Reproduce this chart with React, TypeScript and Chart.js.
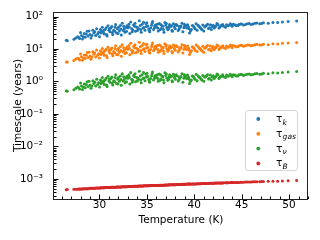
import React, { useEffect, useRef } from 'react';
import { Chart, registerables } from 'chart.js';

Chart.register(...registerables);

const temperature = [
  26.5, 26.6, 27.3, 27.5, 27.7, 27.9, 28.1, 28.2, 28.4, 28.5,
  28.7, 28.8, 29.0, 29.1, 29.3, 29.4, 29.6, 29.7, 29.9, 30.0,
  30.2, 30.3, 30.5, 30.6, 30.8, 30.9, 31.1, 31.2, 31.4, 31.5,
  31.7, 31.8, 32.0, 32.1, 32.3, 32.4, 32.6, 32.7, 32.9, 33.0,
  33.2, 33.3, 33.5, 33.6, 33.8, 33.9, 34.1, 34.2, 34.4, 34.5,
  34.7, 34.8, 35.0, 35.1, 35.3, 35.4, 35.6, 35.7, 35.9, 36.0,
  36.2, 36.3, 36.5, 36.6, 36.8, 36.9, 37.1, 37.2, 37.4, 37.5,
  37.7, 37.8, 38.0, 38.2, 38.3, 38.5, 38.7, 38.8, 39.0, 39.2,
  39.3, 39.5, 39.7, 39.8, 40.0, 40.2, 40.3, 40.5, 40.7, 40.9,
  41.0, 41.2, 41.4, 41.6, 41.8, 42.0, 42.2, 42.4, 42.6, 42.8,
  43.0, 43.3, 43.5, 43.8, 44.0, 44.3, 44.6, 44.9, 45.2, 45.6,
  46.0, 46.4, 46.9, 47.3, 47.8, 48.3, 48.8, 49.3, 49.9, 50.8,
  27.8, 28.0, 28.3, 28.6, 28.9, 29.2, 29.5, 29.8, 30.1, 30.4,
  30.7, 31.0, 31.3, 31.6, 31.9, 32.2, 32.5, 32.8, 33.1, 33.4,
  33.7, 34.0, 34.3, 34.6, 34.9, 35.2, 35.5, 35.8, 36.1, 36.4,
  36.7, 37.0, 37.3, 37.6, 37.9, 38.1, 38.4, 38.6, 38.9, 39.1,
  39.4, 39.6, 39.9, 40.1, 40.4, 40.6, 40.8, 41.1, 41.3, 41.5,
  41.7, 41.9, 42.1, 42.3, 42.5, 42.7, 42.9, 43.1, 43.4, 43.6,
  43.9, 44.1, 44.4, 44.7, 45.0, 45.4, 45.8, 46.2, 46.6, 47.1,
  30.15, 30.45, 30.75, 31.05, 31.35, 31.65, 31.95, 32.25, 32.55, 32.85,
  33.15, 33.45, 33.75, 34.05, 34.35, 34.65, 34.95, 35.25, 35.55, 35.85,
  36.15, 36.45, 36.75, 37.05, 37.35, 37.65, 37.95, 38.45, 38.95, 39.45,
];

const tauK = [
  18.5, 18, 20, 22, 24, 21, 26, 20.5, 30, 23,
  35, 25, 28, 22, 38, 31, 26, 42, 33, 24,
  36, 47, 29, 40, 25, 52, 34, 44, 28, 38,
  57, 31, 47, 36, 27, 62, 41, 33, 52, 45,
  30, 68, 39, 55, 35, 48, 42, 74, 33, 58,
  46, 38, 64, 51, 34, 44, 70, 40, 55, 48,
  36, 61, 43, 52, 33, 66, 46, 39, 57, 49,
  35, 60, 42, 53, 37, 47, 62, 34, 50, 44,
  56, 31, 40, 53, 46, 60, 38, 49, 43, 55,
  36, 51, 58, 45, 40, 54, 48, 61, 44, 52,
  57, 47, 54, 60, 50, 56, 53, 59, 55, 60,
  57, 62, 60, 64, 62, 66, 65, 68, 70, 73,
  23, 32, 24, 29, 36, 26, 34, 29, 40, 33,
  45, 38, 49, 35, 42, 53, 37, 46, 58, 42,
  50, 37, 53, 44, 60, 41, 54, 45, 58, 39,
  50, 55, 43, 52, 47, 57, 41, 51, 45, 54,
  48, 36, 51, 42, 54, 47, 40, 48, 54, 43,
  56, 49, 44, 52, 57, 48, 53, 50, 56, 52,
  55, 58, 53, 57, 59, 57, 61, 59, 63, 61,
  31, 38, 28, 43, 32, 47, 30, 41, 50, 35,
  48, 34, 62, 45, 40, 67, 49, 37, 62, 52,
  44, 57, 40, 61, 50, 38, 55, 49, 58, 42,
];

const tauGas = [
  4.0, 4.0, 4.4, 4.9, 5.2, 4.6, 5.8, 4.5, 6.5, 5.1,
  7.8, 5.5, 6.1, 4.8, 8.3, 6.9, 5.7, 9.3, 7.2, 5.3,
  8.0, 10.3, 6.4, 8.8, 5.5, 11.4, 7.5, 9.7, 6.2, 8.4,
  12.5, 6.8, 10.4, 7.9, 6.0, 13.6, 9.0, 7.3, 11.5, 9.9,
  6.6, 15.0, 8.6, 12.1, 7.7, 10.6, 9.2, 16.2, 7.3, 12.8,
  10.1, 8.4, 14.1, 11.2, 7.5, 9.7, 15.4, 8.8, 12.1, 10.6,
  7.9, 13.4, 9.5, 11.4, 7.3, 14.5, 10.1, 8.6, 12.5, 10.8,
  7.7, 13.2, 9.2, 11.7, 8.1, 10.3, 13.6, 7.5, 11.0, 9.7,
  12.3, 6.8, 8.8, 11.7, 10.1, 13.2, 8.4, 10.8, 9.5, 12.1,
  7.9, 11.2, 12.8, 9.9, 8.8, 11.9, 10.6, 13.4, 9.7, 11.4,
  12.5, 10.3, 11.9, 13.2, 11.0, 12.3, 11.7, 13.0, 12.1, 13.2,
  12.5, 13.6, 13.2, 14.1, 13.6, 14.5, 14.3, 15.0, 15.4, 16.0,
  5.1, 7.0, 5.3, 6.4, 7.9, 5.7, 7.5, 6.4, 8.8, 7.3,
  9.9, 8.4, 10.8, 7.7, 9.2, 11.7, 8.1, 10.1, 12.8, 9.2,
  11.0, 8.1, 11.7, 9.7, 13.2, 9.0, 11.9, 9.9, 12.8, 8.6,
  11.0, 12.1, 9.5, 11.4, 10.3, 12.5, 9.0, 11.2, 9.9, 11.9,
  10.6, 7.9, 11.2, 9.2, 11.9, 10.3, 8.8, 10.6, 11.9, 9.5,
  12.3, 10.8, 9.7, 11.4, 12.5, 10.6, 11.7, 11.0, 12.3, 11.4,
  12.1, 12.8, 11.7, 12.5, 13.0, 12.5, 13.4, 13.0, 13.9, 13.4,
  6.8, 8.4, 6.2, 9.5, 7.0, 10.3, 6.6, 9.0, 11.0, 7.7,
  10.6, 7.5, 13.6, 9.9, 8.8, 14.7, 10.8, 8.1, 13.6, 11.4,
  9.7, 12.5, 8.8, 13.4, 11.0, 8.4, 12.1, 10.8, 12.8, 9.2,
];

const tauNu = [
  0.52, 0.50, 0.56, 0.62, 0.67, 0.59, 0.73, 0.57, 0.84, 0.64,
  0.98, 0.70, 0.78, 0.62, 1.06, 0.87, 0.73, 1.18, 0.92, 0.67,
  1.01, 1.32, 0.81, 1.12, 0.70, 1.46, 0.95, 1.23, 0.78, 1.06,
  1.60, 0.87, 1.32, 1.01, 0.76, 1.74, 1.15, 0.92, 1.46, 1.26,
  0.84, 1.90, 1.09, 1.54, 0.98, 1.34, 1.18, 2.07, 0.92, 1.62,
  1.29, 1.06, 1.79, 1.43, 0.95, 1.23, 1.96, 1.12, 1.54, 1.34,
  1.01, 1.71, 1.20, 1.46, 0.92, 1.85, 1.29, 1.09, 1.60, 1.37,
  0.98, 1.68, 1.18, 1.48, 1.04, 1.32, 1.74, 0.95, 1.40, 1.23,
  1.57, 0.87, 1.12, 1.48, 1.29, 1.68, 1.06, 1.37, 1.20, 1.54,
  1.01, 1.43, 1.62, 1.26, 1.12, 1.51, 1.34, 1.71, 1.23, 1.46,
  1.60, 1.32, 1.51, 1.68, 1.40, 1.57, 1.48, 1.65, 1.54, 1.68,
  1.60, 1.74, 1.68, 1.79, 1.74, 1.85, 1.82, 1.90, 1.96, 2.04,
  0.64, 0.90, 0.67, 0.81, 1.01, 0.73, 0.95, 0.81, 1.12, 0.92,
  1.26, 1.06, 1.37, 0.98, 1.18, 1.48, 1.04, 1.29, 1.62, 1.18,
  1.40, 1.04, 1.48, 1.23, 1.68, 1.15, 1.51, 1.26, 1.62, 1.09,
  1.40, 1.54, 1.20, 1.46, 1.32, 1.60, 1.15, 1.43, 1.26, 1.51,
  1.34, 1.01, 1.43, 1.18, 1.51, 1.32, 1.12, 1.34, 1.51, 1.20,
  1.57, 1.37, 1.23, 1.46, 1.60, 1.34, 1.48, 1.40, 1.57, 1.46,
  1.54, 1.62, 1.48, 1.60, 1.65, 1.60, 1.71, 1.65, 1.76, 1.71,
  0.87, 1.06, 0.78, 1.20, 0.90, 1.32, 0.84, 1.15, 1.40, 0.98,
  1.34, 0.95, 1.74, 1.26, 1.12, 1.88, 1.37, 1.04, 1.74, 1.46,
  1.23, 1.60, 1.12, 1.71, 1.40, 1.06, 1.54, 1.37, 1.62, 1.18,
];

const tauB = [
  4.6e-4, 4.7e-4, 4.8e-4, 4.8e-4, 4.8e-4, 4.9e-4, 4.9e-4, 4.9e-4, 5.0e-4, 5.0e-4,
  5.0e-4, 5.0e-4, 5.1e-4, 5.1e-4, 5.1e-4, 5.1e-4, 5.2e-4, 5.2e-4, 5.2e-4, 5.25e-4,
  5.3e-4, 5.3e-4, 5.3e-4, 5.4e-4, 5.4e-4, 5.4e-4, 5.4e-4, 5.5e-4, 5.5e-4, 5.5e-4,
  5.5e-4, 5.6e-4, 5.6e-4, 5.6e-4, 5.65e-4, 5.7e-4, 5.7e-4, 5.7e-4, 5.75e-4, 5.8e-4,
  5.8e-4, 5.8e-4, 5.9e-4, 5.9e-4, 5.9e-4, 5.9e-4, 6.0e-4, 6.0e-4, 6.0e-4, 6.0e-4,
  6.1e-4, 6.1e-4, 6.1e-4, 6.1e-4, 6.2e-4, 6.2e-4, 6.2e-4, 6.25e-4, 6.3e-4, 6.3e-4,
  6.3e-4, 6.35e-4, 6.4e-4, 6.4e-4, 6.4e-4, 6.45e-4, 6.5e-4, 6.5e-4, 6.55e-4, 6.6e-4,
  6.6e-4, 6.6e-4, 6.65e-4, 6.7e-4, 6.7e-4, 6.7e-4, 6.8e-4, 6.8e-4, 6.8e-4, 6.9e-4,
  6.9e-4, 6.9e-4, 6.95e-4, 7.0e-4, 7.0e-4, 7.0e-4, 7.05e-4, 7.1e-4, 7.1e-4, 7.2e-4,
  7.2e-4, 7.2e-4, 7.25e-4, 7.3e-4, 7.3e-4, 7.35e-4, 7.4e-4, 7.4e-4, 7.5e-4, 7.5e-4,
  7.5e-4, 7.6e-4, 7.6e-4, 7.7e-4, 7.7e-4, 7.75e-4, 7.8e-4, 7.9e-4, 7.9e-4, 8.0e-4,
  8.05e-4, 8.1e-4, 8.2e-4, 8.3e-4, 8.4e-4, 8.45e-4, 8.5e-4, 8.6e-4, 8.7e-4, 8.9e-4,
  4.9e-4, 4.9e-4, 5.0e-4, 5.0e-4, 5.05e-4, 5.1e-4, 5.15e-4, 5.2e-4, 5.25e-4, 5.3e-4,
  5.4e-4, 5.4e-4, 5.5e-4, 5.5e-4, 5.6e-4, 5.6e-4, 5.7e-4, 5.7e-4, 5.8e-4, 5.85e-4,
  5.9e-4, 5.95e-4, 6.0e-4, 6.05e-4, 6.1e-4, 6.15e-4, 6.2e-4, 6.25e-4, 6.3e-4, 6.35e-4,
  6.4e-4, 6.5e-4, 6.5e-4, 6.6e-4, 6.6e-4, 6.7e-4, 6.7e-4, 6.75e-4, 6.8e-4, 6.85e-4,
  6.9e-4, 6.9e-4, 7.0e-4, 7.0e-4, 7.05e-4, 7.1e-4, 7.15e-4, 7.2e-4, 7.2e-4, 7.25e-4,
  7.3e-4, 7.3e-4, 7.35e-4, 7.4e-4, 7.45e-4, 7.5e-4, 7.5e-4, 7.55e-4, 7.6e-4, 7.6e-4,
  7.7e-4, 7.7e-4, 7.8e-4, 7.8e-4, 7.9e-4, 7.95e-4, 8.0e-4, 8.1e-4, 8.15e-4, 8.25e-4,
  5.3e-4, 5.3e-4, 5.4e-4, 5.4e-4, 5.5e-4, 5.5e-4, 5.6e-4, 5.65e-4, 5.7e-4, 5.75e-4,
  5.8e-4, 5.85e-4, 5.9e-4, 5.95e-4, 6.0e-4, 6.05e-4, 6.1e-4, 6.15e-4, 6.2e-4, 6.3e-4,
  6.3e-4, 6.4e-4, 6.4e-4, 6.5e-4, 6.55e-4, 6.6e-4, 6.65e-4, 6.7e-4, 6.8e-4, 6.9e-4,
];

const seriesSubscripts = ['k', 'gas', 'ν', 'B'];
const seriesColors = ['#1f77b4', '#ff7f0e', '#2ca02c', '#d62728'];
const xTicks = [30, 35, 40, 45, 50];
const yTicks = [1e-3, 1e-2, 1e-1, 1, 10, 100];
const yTickLabels = ['10⁻³', '10⁻²', '10⁻¹', '10⁰', '10¹', '10²'];
const xTitle = 'Temperature (K)';
const yTitle = 'Timescale (years)';

const FONT = '"DejaVu Sans", "Liberation Sans", sans-serif';

const framePlugin = {
  id: 'frameTicks',
  afterDraw(chart: any) {
    const { ctx, chartArea: a, scales } = chart;
    const xs = scales.x;
    const ys = scales.y;
    ctx.save();
    ctx.strokeStyle = '#000';
    ctx.lineWidth = 1;
    ctx.beginPath();
    for (let v = Math.ceil(xs.min); v <= xs.max; v++) {
      const px = Math.round(xs.getPixelForValue(v)) + 0.5;
      const len = v % 5 === 0 ? 4.5 : 2.5;
      ctx.moveTo(px, a.bottom);
      ctx.lineTo(px, a.bottom - len);
    }
    for (let d = -4; d <= 2; d++) {
      for (let m = 1; m <= 9; m++) {
        const v = m * Math.pow(10, d);
        if (v < ys.min || v > ys.max) continue;
        const py = Math.round(ys.getPixelForValue(v)) + 0.5;
        const len = m === 1 ? 4.5 : 2.5;
        ctx.moveTo(a.left, py);
        ctx.lineTo(a.left + len, py);
      }
    }
    ctx.stroke();
    ctx.strokeStyle = '#222';
    ctx.strokeRect(Math.round(a.left) - 0.5, Math.round(a.top) + 0.5, Math.round(a.right - a.left), Math.round(a.bottom - a.top));
    ctx.restore();
  },
};

const legendPlugin = {
  id: 'mathLegend',
  afterDraw(chart: any) {
    const { ctx, chartArea: a } = chart;
    const w = 53;
    const h = 61;
    const right = a.right - 10;
    const bottom = a.bottom - 28;
    const left = right - w;
    const top = bottom - h;
    ctx.save();
    ctx.beginPath();
    const r = 3;
    ctx.moveTo(left + r, top + 0.5);
    ctx.lineTo(right - r, top + 0.5);
    ctx.quadraticCurveTo(right - 0.5, top + 0.5, right - 0.5, top + r);
    ctx.lineTo(right - 0.5, bottom - r);
    ctx.quadraticCurveTo(right - 0.5, bottom - 0.5, right - r, bottom - 0.5);
    ctx.lineTo(left + r, bottom - 0.5);
    ctx.quadraticCurveTo(left + 0.5, bottom - 0.5, left + 0.5, bottom - r);
    ctx.lineTo(left + 0.5, top + r);
    ctx.quadraticCurveTo(left + 0.5, top + 0.5, left + r, top + 0.5);
    ctx.closePath();
    ctx.fillStyle = 'rgba(255,255,255,0.8)';
    ctx.fill();
    ctx.strokeStyle = '#d6d6d6';
    ctx.lineWidth = 1;
    ctx.stroke();

    const datasets = chart.data.datasets;
    datasets.forEach((ds: any, i: number) => {
      const cy = top + 9 + i * 14.8;
      ctx.fillStyle = ds.backgroundColor;
      ctx.beginPath();
      ctx.arc(left + 13.3, cy, 1.9, 0, Math.PI * 2);
      ctx.fill();
      ctx.fillStyle = '#000';
      ctx.textBaseline = 'alphabetic';
      ctx.textAlign = 'left';
      ctx.font = `10.5px ${FONT}`;
      const tx = left + 31;
      ctx.fillText('τ', tx, cy + 3);
      const tw = ctx.measureText('τ').width;
      ctx.font = `italic 7.5px ${FONT}`;
      ctx.fillText(ds.subscript, tx + tw + 0.3, cy + 5.5);
    });
    ctx.restore();
  },
};

export default function App() {
  const canvasRef = useRef<HTMLCanvasElement | null>(null);

  useEffect(() => {
    const canvas = canvasRef.current;
    if (!canvas) return;
    const valueSets = [tauK, tauGas, tauNu, tauB];
    const font = { family: FONT, size: 10.5 };
    const chart = new Chart(canvas, {
      type: 'scatter',
      data: {
        datasets: valueSets.map((vals, i) => ({
          label: 'τ_' + seriesSubscripts[i],
          subscript: seriesSubscripts[i],
          data: temperature.map((t, j) => ({ x: t, y: vals[j] })),
          backgroundColor: seriesColors[i],
          borderWidth: 0,
          pointRadius: 1.5,
          pointHoverRadius: 1.5,
        })) as any,
      },
      options: {
        responsive: false,
        animation: false,
        devicePixelRatio: 1,
        layout: { padding: { top: 12, right: 12, left: 0, bottom: 0 } },
        plugins: {
          legend: { display: false },
          tooltip: { enabled: false },
        },
        scales: {
          x: {
            type: 'linear',
            min: 25.2,
            max: 52.0,
            grid: { display: false },
            border: { display: false },
            ticks: {
              color: '#000',
              font,
              padding: -8.5,
              autoSkip: false,
              maxRotation: 0,
              callback: (v: any) => String(v),
            },
            afterBuildTicks: (s: any) => {
              s.ticks = xTicks.map((v) => ({ value: v }));
            },
            afterFit: (s: any) => {
              s.height = 41;
            },
            title: {
              display: true,
              text: xTitle,
              color: '#000',
              font,
              padding: { top: 0, bottom: 13 },
            },
          },
          y: {
            type: 'logarithmic',
            min: 2.4e-4,
            max: 1.38e2,
            grid: { display: false },
            border: { display: false },
            ticks: {
              color: '#000',
              font,
              padding: 3,
              autoSkip: false,
              callback: (v: any) => {
                const idx = yTicks.findIndex((t) => Math.abs(Math.log10(t) - Math.log10(v)) < 1e-6);
                return idx >= 0 ? yTickLabels[idx] : '';
              },
            },
            afterBuildTicks: (s: any) => {
              s.ticks = yTicks.map((v) => ({ value: v }));
            },
            afterFit: (s: any) => {
              s.width = 54;
            },
            title: {
              display: true,
              text: yTitle,
              color: '#000',
              font,
              padding: { top: 11.7, bottom: 0 },
            },
          },
        },
      } as any,
      plugins: [framePlugin, legendPlugin],
    });
    return () => chart.destroy();
  }, []);

  return (
    <div style={{ position: 'fixed', left: 0, top: 0, width: 320, height: 240, background: '#fff' }}>
      <canvas ref={canvasRef} width={320} height={240} style={{ width: 320, height: 240, display: 'block' }} />
    </div>
  );
}
